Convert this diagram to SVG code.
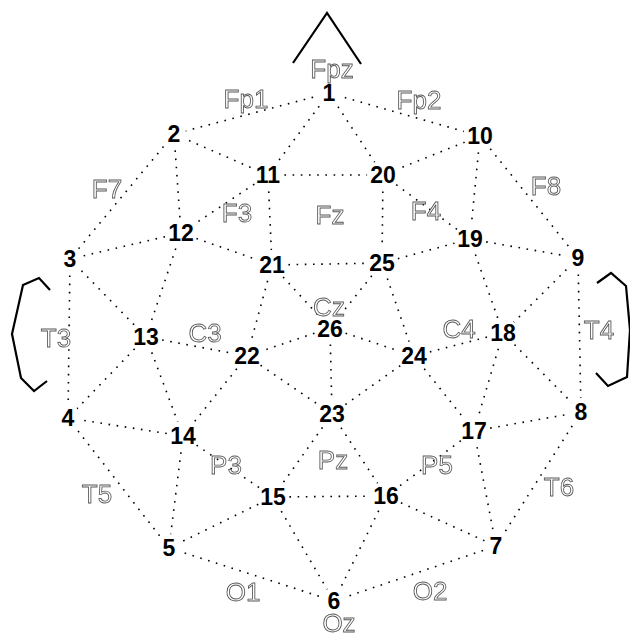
<svg xmlns="http://www.w3.org/2000/svg" width="630" height="638" viewBox="0 0 630 638">
<style>
.conn line{stroke:#000;stroke-width:1.6;stroke-dasharray:1.6 6.6;fill:none}
.num{font-family:"Liberation Sans",Arial,sans-serif;font-weight:bold;font-size:23px;fill:#000;text-anchor:middle}
.lab{font-family:"Liberation Sans",Arial,sans-serif;font-size:26px;fill:#fff;stroke:#555;stroke-width:0.85;text-anchor:middle}
.head{fill:none;stroke:#000;stroke-width:2.2;stroke-linejoin:miter}
</style>
<defs>
<mask id="m" maskUnits="userSpaceOnUse" x="0" y="0" width="630" height="638">
<rect x="0" y="0" width="630" height="638" fill="#fff"/>
<g fill="#000">
<ellipse cx="329" cy="93" rx="12" ry="14"/>
<ellipse cx="174" cy="134" rx="12" ry="14"/>
<ellipse cx="480" cy="136" rx="17" ry="14"/>
<ellipse cx="268" cy="175" rx="16" ry="15"/>
<ellipse cx="383" cy="175" rx="16" ry="15"/>
<ellipse cx="181" cy="233" rx="16" ry="15"/>
<ellipse cx="70" cy="259" rx="12" ry="14"/>
<ellipse cx="272" cy="265" rx="16" ry="15"/>
<ellipse cx="382" cy="263" rx="16" ry="15"/>
<ellipse cx="470" cy="239" rx="16" ry="15"/>
<ellipse cx="578" cy="258" rx="12" ry="14"/>
<ellipse cx="146" cy="337" rx="16" ry="15"/>
<ellipse cx="330" cy="328" rx="16" ry="14"/>
<ellipse cx="247" cy="356" rx="16" ry="15"/>
<ellipse cx="414" cy="356" rx="16" ry="15"/>
<ellipse cx="503" cy="333" rx="16" ry="15"/>
<ellipse cx="68" cy="418" rx="12" ry="14"/>
<ellipse cx="183" cy="436" rx="16" ry="15"/>
<ellipse cx="332" cy="414" rx="16" ry="15"/>
<ellipse cx="474" cy="431" rx="16" ry="15"/>
<ellipse cx="581" cy="412" rx="12" ry="14"/>
<ellipse cx="273" cy="497" rx="16" ry="15"/>
<ellipse cx="386" cy="496" rx="16" ry="15"/>
<ellipse cx="169" cy="548" rx="12" ry="14"/>
<ellipse cx="496" cy="546" rx="12" ry="14"/>
<ellipse cx="334" cy="601" rx="12" ry="14"/>
</g>
</mask>
</defs>
<rect x="0" y="0" width="630" height="638" fill="#fff"/>

<g id="head-outline">
<polyline class="head" points="293,63 327,13 361,64"/>
<polyline class="head" points="50,290 39,278 23,285 12,334 21,378 34,391 47,381"/>
<polyline class="head" points="597,283 611,273 626,286 630,330 627,377 608,386 596,373"/>
</g>

<g id="connectors" class="conn" mask="url(#m)">
<line x1="329" y1="93" x2="174" y2="134"/>
<line x1="329" y1="93" x2="480" y2="136"/>
<line x1="329" y1="93" x2="268" y2="175"/>
<line x1="329" y1="93" x2="383" y2="175"/>
<line x1="174" y1="134" x2="268" y2="175"/>
<line x1="174" y1="134" x2="181" y2="233"/>
<line x1="174" y1="134" x2="70" y2="259"/>
<line x1="480" y1="136" x2="383" y2="175"/>
<line x1="480" y1="136" x2="470" y2="239"/>
<line x1="480" y1="136" x2="578" y2="258"/>
<line x1="268" y1="175" x2="383" y2="175"/>
<line x1="268" y1="175" x2="272" y2="265"/>
<line x1="268" y1="175" x2="181" y2="233"/>
<line x1="383" y1="175" x2="382" y2="263"/>
<line x1="383" y1="175" x2="470" y2="239"/>
<line x1="181" y1="233" x2="70" y2="259"/>
<line x1="181" y1="233" x2="272" y2="265"/>
<line x1="181" y1="233" x2="146" y2="337"/>
<line x1="70" y1="259" x2="146" y2="337"/>
<line x1="70" y1="259" x2="68" y2="418"/>
<line x1="272" y1="265" x2="382" y2="263"/>
<line x1="272" y1="265" x2="330" y2="328"/>
<line x1="272" y1="265" x2="247" y2="356"/>
<line x1="382" y1="263" x2="470" y2="239"/>
<line x1="382" y1="263" x2="330" y2="328"/>
<line x1="382" y1="263" x2="414" y2="356"/>
<line x1="470" y1="239" x2="578" y2="258"/>
<line x1="470" y1="239" x2="503" y2="333"/>
<line x1="578" y1="258" x2="503" y2="333"/>
<line x1="578" y1="258" x2="581" y2="412"/>
<line x1="146" y1="337" x2="247" y2="356"/>
<line x1="146" y1="337" x2="68" y2="418"/>
<line x1="146" y1="337" x2="183" y2="436"/>
<line x1="330" y1="328" x2="247" y2="356"/>
<line x1="330" y1="328" x2="414" y2="356"/>
<line x1="330" y1="328" x2="332" y2="414"/>
<line x1="247" y1="356" x2="183" y2="436"/>
<line x1="247" y1="356" x2="332" y2="414"/>
<line x1="414" y1="356" x2="503" y2="333"/>
<line x1="414" y1="356" x2="474" y2="431"/>
<line x1="503" y1="333" x2="474" y2="431"/>
<line x1="503" y1="333" x2="581" y2="412"/>
<line x1="68" y1="418" x2="183" y2="436"/>
<line x1="68" y1="418" x2="169" y2="548"/>
<line x1="183" y1="436" x2="273" y2="497"/>
<line x1="183" y1="436" x2="169" y2="548"/>
<line x1="332" y1="414" x2="273" y2="497"/>
<line x1="332" y1="414" x2="386" y2="496"/>
<line x1="332" y1="414" x2="414" y2="356"/>
<line x1="474" y1="431" x2="581" y2="412"/>
<line x1="474" y1="431" x2="386" y2="496"/>
<line x1="474" y1="431" x2="496" y2="546"/>
<line x1="581" y1="412" x2="496" y2="546"/>
<line x1="273" y1="497" x2="386" y2="496"/>
<line x1="273" y1="497" x2="169" y2="548"/>
<line x1="273" y1="497" x2="334" y2="601"/>
<line x1="386" y1="496" x2="334" y2="601"/>
<line x1="386" y1="496" x2="496" y2="546"/>
<line x1="169" y1="548" x2="334" y2="601"/>
<line x1="334" y1="601" x2="496" y2="546"/>
</g>

<g id="labels" opacity="0.99">
<text class="lab" x="332" y="78">Fpz</text>
<text class="lab" x="246" y="108">Fp1</text>
<text class="lab" x="419" y="109">Fp2</text>
<text class="lab" x="107" y="198">F7</text>
<text class="lab" x="237" y="222">F3</text>
<text class="lab" x="330" y="224">Fz</text>
<text class="lab" x="426" y="220">F4</text>
<text class="lab" x="546" y="195">F8</text>
<text class="lab" x="56" y="347">T3</text>
<text class="lab" x="205" y="342">C3</text>
<text class="lab" x="329" y="316">Cz</text>
<text class="lab" x="459" y="338">C4</text>
<text class="lab" x="599" y="339">T4</text>
<text class="lab" x="97" y="503">T5</text>
<text class="lab" x="226" y="474">P3</text>
<text class="lab" x="333" y="469">Pz</text>
<text class="lab" x="437" y="474">P5</text>
<text class="lab" x="559" y="496">T6</text>
<text class="lab" x="243" y="601">O1</text>
<text class="lab" x="430" y="600">O2</text>
<text class="lab" x="339" y="632">Oz</text>
</g>

<g id="n1"><text class="num" x="329" y="101">1</text></g>
<g id="n2"><text class="num" x="174" y="142">2</text></g>
<g id="n10"><text class="num" x="480" y="144">10</text></g>
<g id="n11"><text class="num" x="268" y="183">11</text></g>
<g id="n20"><text class="num" x="383" y="183">20</text></g>
<g id="n12"><text class="num" x="181" y="241">12</text></g>
<g id="n3"><text class="num" x="70" y="267">3</text></g>
<g id="n21"><text class="num" x="272" y="273">21</text></g>
<g id="n25"><text class="num" x="382" y="271">25</text></g>
<g id="n19"><text class="num" x="470" y="247">19</text></g>
<g id="n9"><text class="num" x="578" y="266">9</text></g>
<g id="n13"><text class="num" x="146" y="345">13</text></g>
<g id="n26"><text class="num" x="330" y="337">26</text></g>
<g id="n22"><text class="num" x="247" y="364">22</text></g>
<g id="n24"><text class="num" x="414" y="364">24</text></g>
<g id="n18"><text class="num" x="503" y="341">18</text></g>
<g id="n4"><text class="num" x="68" y="426">4</text></g>
<g id="n14"><text class="num" x="183" y="444">14</text></g>
<g id="n23"><text class="num" x="332" y="422">23</text></g>
<g id="n17"><text class="num" x="474" y="439">17</text></g>
<g id="n8"><text class="num" x="581" y="420">8</text></g>
<g id="n15"><text class="num" x="273" y="505">15</text></g>
<g id="n16"><text class="num" x="386" y="504">16</text></g>
<g id="n5"><text class="num" x="169" y="556">5</text></g>
<g id="n7"><text class="num" x="496" y="554">7</text></g>
<g id="n6"><text class="num" x="334" y="609">6</text></g>
</svg>
